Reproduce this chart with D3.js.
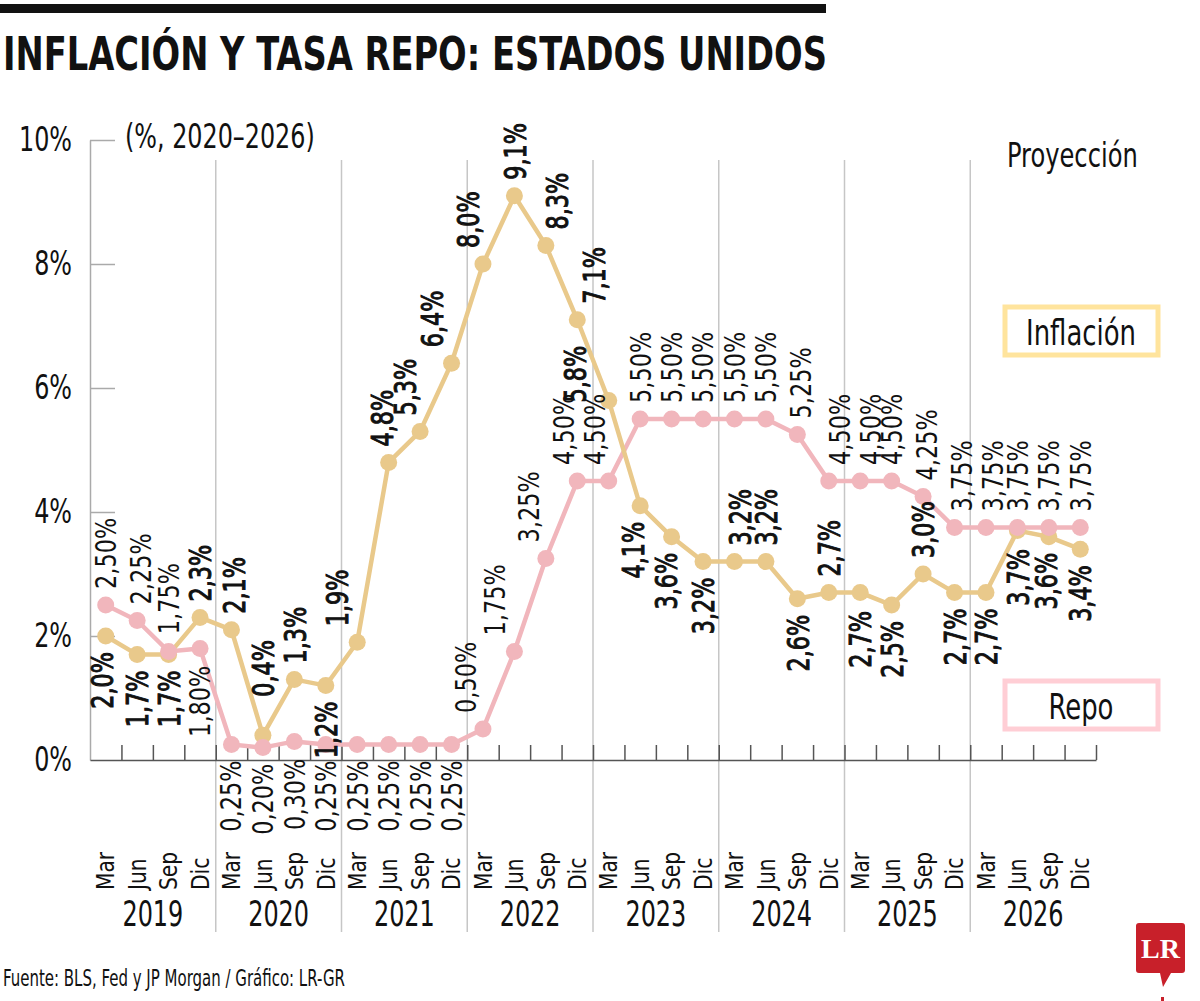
<!DOCTYPE html>
<html>
<head>
<meta charset="utf-8">
<script src="https://cdn.jsdelivr.net/npm/d3@7"></script>
<style>
  body { margin: 0; background: #fff; }
  text { font-family: "Liberation Sans Narrow", "DejaVu Sans Condensed", "Roboto", sans-serif; fill: #111; }
</style>
</head>
<body>
<svg id="chart" width="1200" height="1001"></svg>
<script>
// datos trimestrales, marzo 2019 a diciembre 2026
const meses = ["Mar", "Jun", "Sep", "Dic"];
const anios = ["2019", "2020", "2021", "2022", "2023", "2024", "2025", "2026"];
const inflacion = [2.0, 1.7, 1.7, 2.3,  2.1, 0.4, 1.3, 1.2,  1.9, 4.8, 5.3, 6.4,  8.0, 9.1, 8.3, 7.1,
                   5.8, 4.1, 3.6, 3.2,  3.2, 3.2, 2.6, 2.7,  2.7, 2.5, 3.0, 2.7,  2.7, 3.7, 3.6, 3.4];
const repo = [2.50, 2.25, 1.75, 1.80,  0.25, 0.20, 0.30, 0.25,  0.25, 0.25, 0.25, 0.25,  0.50, 1.75, 3.25, 4.50,
              4.50, 5.50, 5.50, 5.50,  5.50, 5.50, 5.25, 4.50,  4.50, 4.50, 4.25, 3.75,  3.75, 3.75, 3.75, 3.75];
const ticksY = [0, 2, 4, 6, 8, 10];

// lado de cada etiqueta: a = arriba, b = abajo, i = arriba a la izquierda
const ladoInflacion = "bbba aaab aaaa aaaa ibbb aaba bbab bbbb".replace(/ /g, "").split("");
const ladoRepo      = "aaab bbbb bbbb aaaa aaaa aaaa aaaa aaaa".replace(/ /g, "").split("");

const colorInfl = "#e9c98b", colorRepo = "#f1b6bc";
const angosto = 0.78; // la fuente original es condensada

const svg = d3.select("#chart");
const trimestres = anios.flatMap(a => meses.map(m => a + "-" + m));

const x = d3.scaleBand().domain(trimestres).range([90, 1096]);
const bw = x.bandwidth();
const cx = i => x(trimestres[i]) + bw / 2;
const y = d3.scaleLinear().domain([0, 10]).range([760, 140]);
const xb = d3.scaleLinear().domain([0, trimestres.length]).range([90, 1096]);

function texto(px, py, t, tam, anchor, sx) {
  return svg.append("text")
    .attr("transform", `translate(${px},${py}) scale(${sx || angosto},1)`)
    .attr("text-anchor", anchor || "start").attr("font-size", tam).text(t);
}

// barra y titulo
svg.append("rect").attr("x", 0).attr("y", 4).attr("width", 826).attr("height", 9).attr("fill", "#111");
svg.append("text").attr("x", 3).attr("y", 70)
  .attr("font-size", 46).attr("font-weight", "bold")
  .attr("textLength", 824).attr("lengthAdjust", "spacingAndGlyphs")
  .text("INFLACIÓN Y TASA REPO: ESTADOS UNIDOS");

// separadores de año
svg.append("g").selectAll("line").data(anios.slice(1)).join("line")
  .attr("x1", (d, i) => xb((i + 1) * 4)).attr("x2", (d, i) => xb((i + 1) * 4))
  .attr("y1", 160).attr("y2", 932)
  .attr("stroke", "#c6c6c6").attr("stroke-width", 1.5);

// eje y
const gy = svg.append("g").attr("transform", "translate(90,0)")
  .call(d3.axisLeft(y).tickValues(ticksY).tickFormat(d => d + "%").tickSize(-25).tickSizeOuter(0).tickPadding(18));
gy.selectAll("path, line").attr("stroke", "#aaa").attr("stroke-width", 1.5);
gy.selectAll("text").attr("font-size", 34).attr("fill", "#111")
  .attr("transform", function () { return `translate(${d3.select(this).attr("x")},0) scale(${angosto},1)`; })
  .attr("x", 0);
gy.select(".tick:first-of-type line").remove();

// eje x
const gx = svg.append("g").attr("transform", "translate(0,760)")
  .call(d3.axisBottom(xb).tickValues(d3.range(1, trimestres.length + 1)).tickFormat("").tickSize(-15).tickSizeOuter(0));
gx.selectAll("path, line").attr("stroke", "#555").attr("stroke-width", 1.5);

svg.append("g").selectAll("text").data(trimestres).join("text")
  .attr("transform", (d, i) => `translate(${cx(i)},890) rotate(-90) scale(0.9,1)`)
  .attr("dy", "0.35em").attr("font-size", 25).attr("fill", "#222")
  .text(d => d.split("-")[1]);

svg.append("g").selectAll("text").data(anios).join("text")
  .attr("transform", (d, i) => `translate(${xb(i * 4 + 2)},926) scale(0.74,1)`)
  .attr("text-anchor", "middle").attr("font-size", 36).attr("fill", "#222")
  .text(d => d);

// textos auxiliares
texto(125, 148, "(%, 2020–2026)", 34);
texto(1007, 167, "Proyección", 34, "start", 0.79);

// leyenda
[[colorInfl, 307, "Inflación"], [colorRepo, 681, "Repo"]].forEach(([c, top, t]) => {
  svg.append("rect").attr("x", 1005).attr("y", top).attr("width", 153).attr("height", 48)
    .attr("fill", "#fff").attr("stroke", d3.color(c).brighter(0.35)).attr("stroke-width", 5);
  texto(1081, top + 38, t, 36, "middle", 0.8);
});

// series
const linea = d3.line().x((d, i) => cx(i)).y(d => y(d));
svg.append("path").datum(repo).attr("d", linea).attr("fill", "none").attr("stroke", colorRepo).attr("stroke-width", 4.5);
svg.append("path").datum(inflacion).attr("d", linea).attr("fill", "none").attr("stroke", colorInfl).attr("stroke-width", 4.5);
svg.append("g").selectAll("circle").data(inflacion).join("circle")
  .attr("cx", (d, i) => cx(i)).attr("cy", d => y(d)).attr("r", 8.5).attr("fill", colorInfl);
svg.append("g").selectAll("circle").data(repo).join("circle")
  .attr("cx", (d, i) => cx(i)).attr("cy", d => y(d)).attr("r", 8.5).attr("fill", colorRepo);

// colocacion de etiquetas segun la pendiente de los vecinos
function colocar(serie, i, lado) {
  const v = serie[i], px = cx(i), py = y(v);
  if (lado === "i") return { x: px - 34, y: py + 2, anchor: "start" };
  const vecino = (j, paso) => {
    let w = serie[j];
    if (w === v && serie[j + paso] !== undefined) w = serie[j + paso];
    return w;
  };
  const prev = i > 0 ? vecino(i - 1, -1) : v;
  const next = i < serie.length - 1 ? vecino(i + 1, 1) : v;
  const sgn = lado === "b" ? -1 : 1;
  const dl = Math.max(0, sgn * (prev - v)), dr = Math.max(0, sgn * (next - v));
  let dx = 0, gap = 16;
  if (dl > 0 && dr > 0) gap += Math.min(dl, dr) * 25;
  else dx = Math.max(-20, Math.min(20, (dl - dr) * 14));
  return lado === "b"
    ? { x: px + dx, y: py + gap, anchor: "end" }
    : { x: px + dx, y: py - gap, anchor: "start" };
}

function etiquetas(serie, lados, decimales, grosor, tam, sx) {
  const fmt = d3.format("." + decimales + "f");
  svg.append("g").selectAll("text").data(serie).join("text")
    .each(function (d, i) {
      const p = colocar(serie, i, lados[i]);
      d3.select(this)
        .attr("transform", `translate(${p.x},${p.y}) rotate(-90) scale(${sx},1)`)
        .attr("text-anchor", p.anchor);
    })
    .attr("dy", "0.36em").attr("font-size", tam)
    .attr("stroke", grosor ? "#111" : null).attr("stroke-width", grosor || null)
    .text(d => fmt(d).replace(".", ",") + "%");
}
etiquetas(repo, ladoRepo, 2, 0, 29, 0.86);
etiquetas(inflacion, ladoInflacion, 1, 1.0, 31, 0.8);

// pie
svg.append("text").attr("x", 3).attr("y", 986).attr("font-size", 23)
  .attr("textLength", 342).attr("lengthAdjust", "spacingAndGlyphs")
  .text("Fuente: BLS, Fed y JP Morgan / Gráfico: LR-GR");

// logo
svg.append("path")
  .attr("d", "M1139,923 H1182 Q1185,923 1185,926 V970 Q1185,973 1182,973 H1171 L1163,987 L1160,973 H1139 Q1136,973 1136,970 V926 Q1136,923 1139,923 Z")
  .attr("fill", "#c8202a");
svg.append("text").attr("x", 1160.5).attr("y", 958).attr("text-anchor", "middle")
  .attr("font-weight", "bold").attr("font-size", 28)
  .style("fill", "#fff").style("font-family", "'Liberation Serif', 'DejaVu Serif', serif")
  .text("LR");
svg.append("rect").attr("x", 1161).attr("y", 997).attr("width", 3).attr("height", 4).attr("fill", "#c8202a");
</script>
</body>
</html>
